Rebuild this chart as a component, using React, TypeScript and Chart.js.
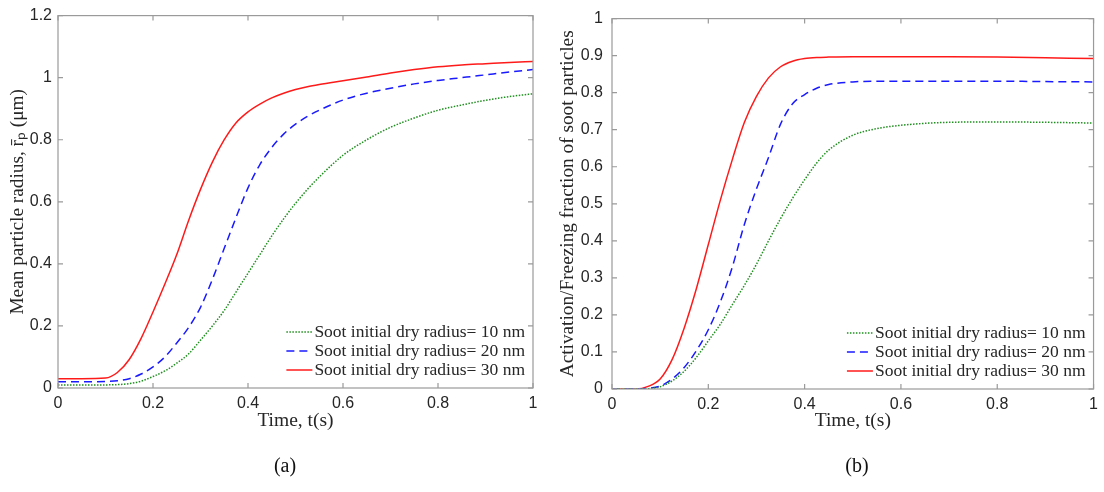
import React, { useEffect, useRef } from "react";
import { Chart, registerables } from "chart.js";
Chart.register(...registerables);

// ---------- data ----------
const timeA = [0, 0.05, 0.1, 0.125, 0.15, 0.175, 0.2, 0.225, 0.25, 0.275, 0.3, 0.325, 0.35, 0.375, 0.4, 0.425, 0.45, 0.475, 0.5, 0.525, 0.55, 0.6, 0.65, 0.7, 0.75, 0.8, 0.85, 0.9, 0.95, 1.0];
const radius10 = [0.01, 0.01, 0.01, 0.011, 0.014, 0.022, 0.037, 0.055, 0.08, 0.11, 0.154, 0.2, 0.25, 0.31, 0.37, 0.43, 0.49, 0.545, 0.595, 0.64, 0.68, 0.75, 0.8, 0.84, 0.87, 0.895, 0.912, 0.927, 0.939, 0.948];
const radius20 = [0.02, 0.02, 0.021, 0.023, 0.03, 0.045, 0.068, 0.1, 0.145, 0.195, 0.26, 0.35, 0.45, 0.55, 0.645, 0.72, 0.775, 0.818, 0.85, 0.875, 0.895, 0.928, 0.95, 0.966, 0.98, 0.991, 1.0, 1.009, 1.018, 1.026];
const radius30 = [0.03, 0.03, 0.032, 0.05, 0.092, 0.16, 0.245, 0.335, 0.43, 0.54, 0.64, 0.728, 0.8, 0.855, 0.89, 0.915, 0.935, 0.95, 0.962, 0.971, 0.978, 0.99, 1.002, 1.015, 1.026, 1.035, 1.041, 1.045, 1.049, 1.052];

const timeB = [0, 0.05, 0.075, 0.1, 0.125, 0.15, 0.175, 0.2, 0.225, 0.25, 0.275, 0.3, 0.325, 0.35, 0.375, 0.4, 0.425, 0.45, 0.5, 0.55, 0.6, 0.7, 0.8, 0.9, 1.0];
const frac10 = [0, 0, 0.001, 0.006, 0.022, 0.048, 0.085, 0.13, 0.175, 0.228, 0.28, 0.337, 0.4, 0.46, 0.515, 0.565, 0.61, 0.645, 0.685, 0.703, 0.712, 0.72, 0.721, 0.72, 0.718];
const frac20 = [0, 0, 0.002, 0.008, 0.027, 0.058, 0.103, 0.16, 0.235, 0.33, 0.445, 0.54, 0.625, 0.715, 0.77, 0.795, 0.812, 0.822, 0.829, 0.831, 0.831, 0.831, 0.831, 0.83, 0.829];
const frac30 = [0, 0, 0.007, 0.027, 0.08, 0.165, 0.27, 0.39, 0.51, 0.62, 0.72, 0.79, 0.84, 0.87, 0.885, 0.892, 0.895, 0.896, 0.897, 0.897, 0.897, 0.897, 0.896, 0.894, 0.892];

const legendLabels = [
  "Soot initial dry radius= 10 nm",
  "Soot initial dry radius= 20 nm",
  "Soot initial dry radius= 30 nm",
];
const xTitle = "Time, t(s)";
const yTitleA = "Mean particle radius, r\u0304\u209A (\u03BCm)";
const yTitleB = "Activation/Freezing fraction of soot particles";
const panelLabels = ["(a)", "(b)"];

// ---------- styling ----------
const SERIF = '"Liberation Serif", "Times New Roman", serif';
const SANS = '"Liberation Sans", Arial, sans-serif';
const BOX = "#9a9a9a";
const TEXT = "#262626";
const seriesStyles = [
  { color: "#1f8f1f", dash: [1.5, 1.5] },
  { color: "#1a1aff", dash: [8, 5] },
  { color: "#ff1a1a", dash: [] as number[] },
];

const fmtTick = (v: any) => String(Math.round(Number(v) * 100) / 100);

const boxPlugin = {
  id: "boxTicks",
  afterDatasetsDraw(chart: any) {
    const { ctx, chartArea, scales } = chart;
    const { left, right, top, bottom } = chartArea;
    const x = scales.x;
    const y = scales.y;
    ctx.save();
    ctx.strokeStyle = BOX;
    ctx.lineWidth = 1.2;
    ctx.setLineDash([]);
    ctx.beginPath();
    x.ticks.forEach((t: any) => {
      const px = x.getPixelForValue(t.value);
      ctx.moveTo(px, bottom);
      ctx.lineTo(px, bottom - 5);
      ctx.moveTo(px, top);
      ctx.lineTo(px, top + 5);
    });
    y.ticks.forEach((t: any) => {
      const py = y.getPixelForValue(t.value);
      ctx.moveTo(left, py);
      ctx.lineTo(left + 5, py);
      ctx.moveTo(right, py);
      ctx.lineTo(right - 5, py);
    });
    ctx.stroke();
    ctx.strokeRect(left, top, right - left, bottom - top);
    ctx.restore();
  },
};

const legendPlugin = {
  id: "insideLegend",
  afterDraw(chart: any) {
    const { ctx, chartArea } = chart;
    const ds = chart.data.datasets;
    ctx.save();
    ctx.font = `17.5px ${SERIF}`;
    ctx.textBaseline = "middle";
    const maxW = Math.max(...ds.map((d: any) => ctx.measureText(d.label).width));
    const textX = chartArea.right - 8 - maxW;
    const lastY = chartArea.bottom - 18;
    ds.forEach((d: any, i: number) => {
      const yy = lastY - (ds.length - 1 - i) * 19;
      ctx.strokeStyle = d.borderColor;
      ctx.lineWidth = d.borderWidth;
      ctx.setLineDash(d.borderDash || []);
      ctx.beginPath();
      ctx.moveTo(textX - 28, yy);
      ctx.lineTo(textX - 2, yy);
      ctx.stroke();
      ctx.setLineDash([]);
      ctx.fillStyle = TEXT;
      ctx.textAlign = "left";
      ctx.fillText(d.label, textX, yy);
    });
    ctx.restore();
  },
};

function makeConfig(opts: {
  times: number[];
  series: number[][];
  yMax: number;
  yStep: number;
  yTitle: string;
  padding: { left: number; top: number; right: number; bottom: number };
  yWidth: number;
  xHeight: number;
  yTitlePad: number;
  yTickPad: number;
}) {
  const datasets = opts.series.map((vals, i) => ({
    label: legendLabels[i],
    data: opts.times.map((t, k) => ({ x: t, y: vals[k] })),
    borderColor: seriesStyles[i].color,
    borderDash: seriesStyles[i].dash,
    borderWidth: 1.5,
    pointRadius: 0,
    fill: false,
    cubicInterpolationMode: "monotone" as const,
  }));
  return {
    type: "line" as const,
    data: { datasets },
    plugins: [boxPlugin, legendPlugin],
    options: {
      responsive: false,
      animation: false as const,
      events: [],
      layout: { padding: opts.padding },
      plugins: { legend: { display: false }, tooltip: { enabled: false } },
      scales: {
        x: {
          type: "linear" as const,
          min: 0,
          max: 1,
          grid: { display: false, drawTicks: false },
          border: { display: false },
          ticks: { stepSize: 0.2, padding: 6, maxRotation: 0, autoSkip: false, color: TEXT, font: { family: SANS, size: 16 }, callback: fmtTick },
          title: { display: true, text: xTitle, color: TEXT, font: { family: SERIF, size: 19.5 }, padding: { top: 0, bottom: 59 } },
          afterFit: (s: any) => { s.height = opts.xHeight; },
        },
        y: {
          type: "linear" as const,
          min: 0,
          max: opts.yMax,
          grid: { display: false, drawTicks: false },
          border: { display: false },
          ticks: { stepSize: opts.yStep, padding: opts.yTickPad, autoSkip: false, color: TEXT, font: { family: SANS, size: 16 }, callback: fmtTick },
          title: { display: true, text: opts.yTitle, color: TEXT, font: { family: SERIF, size: 19.3 }, padding: { top: opts.yTitlePad, bottom: 0 } },
          afterFit: (s: any) => { s.width = opts.yWidth; },
        },
      },
    },
  };
}

function ChartCanvas({ config }: { config: any }) {
  const ref = useRef<HTMLCanvasElement | null>(null);
  useEffect(() => {
    if (!ref.current) return;
    const chart = new Chart(ref.current, config);
    return () => chart.destroy();
  }, [config]);
  return (
    <canvas
      ref={ref}
      width={1104}
      height={492}
      style={{ position: "absolute", left: 0, top: 0, width: 1104, height: 492 }}
    />
  );
}

const configA = makeConfig({
  times: timeA,
  series: [radius10, radius20, radius30],
  yMax: 1.2,
  yStep: 0.2,
  yTitle: yTitleA,
  padding: { left: 0, top: 15, right: 571, bottom: 0 },
  yWidth: 58,
  xHeight: 104,
  yTitlePad: 6.4,
  yTickPad: 6,
});

const configB = makeConfig({
  times: timeB,
  series: [frac10, frac20, frac30],
  yMax: 1,
  yStep: 0.1,
  yTitle: yTitleB,
  padding: { left: 540, top: 9, right: 8, bottom: 0 },
  yWidth: 72,
  xHeight: 103,
  yTitlePad: 16.4,
  yTickPad: 9,
});

export default function App() {
  const labelStyle = (cx: number): React.CSSProperties => ({
    position: "absolute",
    left: cx - 30,
    width: 60,
    top: 452,
    textAlign: "center",
    fontFamily: SERIF,
    fontSize: 20,
    lineHeight: "26px",
    color: "#111",
  });
  return (
    <div style={{ position: "fixed", left: 0, top: 0, width: 1104, height: 492, background: "#fff", overflow: "hidden" }}>
      <ChartCanvas config={configA} />
      <ChartCanvas config={configB} />
      <div style={labelStyle(285)}>{panelLabels[0]}</div>
      <div style={labelStyle(857)}>{panelLabels[1]}</div>
    </div>
  );
}
